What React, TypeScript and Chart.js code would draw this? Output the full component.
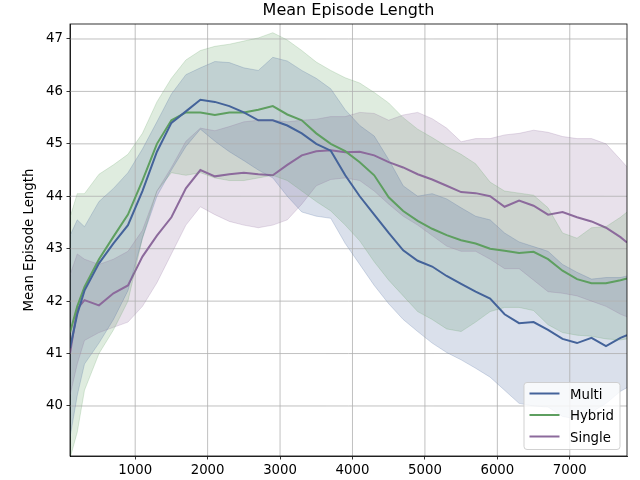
import React, { useEffect, useRef } from "react";
import { Chart, registerables } from "chart.js";

Chart.register(...registerables);

const steps = [100, 200, 300, 500, 700, 900, 1100, 1300, 1500, 1700, 1900, 2100, 2300, 2500, 2700, 2900, 3100, 3300, 3500, 3700, 3900, 4100, 4300, 4500, 4700, 4900, 5100, 5300, 5500, 5700, 5900, 6100, 6300, 6500, 6700, 6900, 7100, 7300, 7500, 7700, 7790];

const multiMean = [41.1, 41.75, 42.2, 42.72, 43.1, 43.45, 44.1, 44.85, 45.4, 45.62, 45.84, 45.8, 45.72, 45.6, 45.45, 45.45, 45.35, 45.2, 45.0, 44.87, 44.4, 44.0, 43.65, 43.3, 42.97, 42.77, 42.66, 42.48, 42.33, 42.18, 42.05, 41.75, 41.58, 41.6, 41.45, 41.28, 41.2, 41.3, 41.14, 41.3, 41.35];
const multiHigh = [43.25, 43.55, 43.42, 43.9, 44.15, 44.45, 44.9, 45.42, 45.95, 46.32, 46.45, 46.57, 46.55, 46.45, 46.4, 46.65, 46.58, 46.4, 46.25, 46.05, 45.65, 45.35, 45.15, 44.7, 44.2, 44.0, 44.05, 43.95, 43.78, 43.62, 43.55, 43.3, 43.13, 43.04, 42.95, 42.7, 42.55, 42.42, 42.45, 42.45, 42.48];
const multiLow = [39.4, 40.2, 40.8, 41.2, 41.65, 42.2, 43.2, 44.0, 44.5, 44.95, 45.28, 45.05, 44.85, 44.68, 44.5, 44.35, 44.0, 43.7, 43.62, 43.58, 43.1, 42.7, 42.3, 41.95, 41.65, 41.42, 41.2, 41.02, 40.88, 40.72, 40.55, 40.3, 40.05, 40.0, 39.98, 39.8, 39.75, 39.88, 40.05, 40.28, 40.35];

const hybridMean = [41.4, 41.9, 42.27, 42.8, 43.23, 43.65, 44.3, 45.0, 45.45, 45.6, 45.6, 45.55, 45.6, 45.6, 45.65, 45.72, 45.56, 45.45, 45.2, 45.0, 44.86, 44.65, 44.4, 43.98, 43.72, 43.53, 43.38, 43.26, 43.16, 43.1, 43.0, 42.96, 42.92, 42.94, 42.8, 42.58, 42.42, 42.34, 42.34, 42.4, 42.43];
const hybridHigh = [43.6, 44.05, 44.05, 44.42, 44.6, 44.8, 45.2, 45.8, 46.25, 46.6, 46.78, 46.86, 46.9, 46.96, 47.02, 47.12, 46.98, 46.78, 46.56, 46.4, 46.26, 46.16, 45.98, 45.78, 45.5, 45.28, 45.12, 44.95, 44.8, 44.62, 44.27, 44.1, 44.06, 44.02, 43.78, 43.3, 43.2, 43.4, 43.42, 43.6, 43.7];
const hybridLow = [39.0, 39.5, 40.3, 41.0, 41.45, 42.0, 43.2, 44.1, 44.45, 44.4, 44.45, 44.35, 44.3, 44.3, 44.35, 44.4, 44.3, 44.1, 43.9, 43.72, 43.45, 43.15, 42.75, 42.4, 42.1, 41.8, 41.65, 41.47, 41.42, 41.6, 41.8, 41.88, 41.88, 41.82, 41.55, 41.4, 41.35, 41.33, 41.28, 41.26, 41.28];

const singleMean = [41.0, 41.85, 42.02, 41.92, 42.15, 42.3, 42.85, 43.25, 43.6, 44.15, 44.5, 44.38, 44.42, 44.45, 44.42, 44.4, 44.6, 44.78, 44.86, 44.88, 44.84, 44.85, 44.78, 44.65, 44.55, 44.42, 44.32, 44.2, 44.08, 44.06, 44.0, 43.8, 43.92, 43.82, 43.65, 43.7, 43.6, 43.52, 43.4, 43.22, 43.12];
const singleHigh = [42.5, 42.9, 42.8, 42.7, 42.8, 42.95, 43.35, 44.1, 44.55, 45.05, 45.3, 45.25, 45.33, 45.42, 45.45, 45.45, 45.42, 45.45, 45.47, 45.52, 45.52, 45.6, 45.58, 45.45, 45.55, 45.6, 45.48, 45.3, 45.04, 45.1, 45.1, 45.17, 45.2, 45.26, 45.22, 45.14, 45.1, 45.1, 45.0, 44.7, 44.56];
const singleLow = [40.2, 40.8, 41.25, 41.4, 41.5, 41.6, 41.9, 42.35, 42.9, 43.45, 43.8, 43.65, 43.52, 43.45, 43.4, 43.45, 43.55, 43.85, 44.2, 44.32, 44.35, 44.3, 44.1, 43.85, 43.62, 43.45, 43.25, 43.05, 42.95, 42.95, 42.8, 42.62, 42.62, 42.4, 42.18, 42.15, 42.1, 42.0, 41.9, 41.75, 41.7];

const xTicks = [1000, 2000, 3000, 4000, 5000, 6000, 7000];
const yTicks = [40, 41, 42, 43, 44, 45, 46, 47];
const seriesLabels = ["Multi", "Hybrid", "Single"];
const titleText = "Mean Episode Length";
const yLabelText = "Mean Episode Length";

const FONT = "'DejaVu Sans', 'Liberation Sans', sans-serif";
const rgba = (c: number[], a: number) => `rgba(${c[0]},${c[1]},${c[2]},${a})`;
const colors = [
  [68, 99, 154],
  [94, 159, 96],
  [140, 106, 156],
];

const pts = (arr: number[]) => steps.map((s, i) => ({ x: s, y: arr[i] }));

const decorPlugin = {
  id: "decor",
  beforeDatasetsDraw(chart: any) {
    const { ctx, chartArea: a, scales } = chart;
    ctx.save();
    ctx.beginPath();
    ctx.rect(a.left, a.top, a.right - a.left, a.bottom - a.top);
    ctx.clip();
    ctx.strokeStyle = "#b0b0b0";
    ctx.lineWidth = 0.8;
    for (const v of xTicks) {
      const px = scales.x.getPixelForValue(v);
      ctx.beginPath();
      ctx.moveTo(px, a.top);
      ctx.lineTo(px, a.bottom);
      ctx.stroke();
    }
    for (const v of yTicks) {
      const py = scales.y.getPixelForValue(v);
      ctx.beginPath();
      ctx.moveTo(a.left, py);
      ctx.lineTo(a.right, py);
      ctx.stroke();
    }
    ctx.restore();
  },
  afterDatasetsDraw(chart: any) {
    const { ctx, chartArea: a } = chart;
    ctx.save();
    ctx.strokeStyle = "#000";
    ctx.lineWidth = 0.8;
    ctx.strokeRect(a.left, a.top, a.right - a.left, a.bottom - a.top);
    ctx.restore();
  },
  afterDraw(chart: any) {
    const { ctx, chartArea: a } = chart;
    ctx.save();
    // title
    ctx.fillStyle = "#000";
    ctx.font = `16px ${FONT}`;
    ctx.textAlign = "center";
    ctx.textBaseline = "alphabetic";
    ctx.fillText(titleText, (a.left + a.right) / 2, 15);
    // y label
    ctx.save();
    ctx.translate(33, (a.top + a.bottom) / 2);
    ctx.rotate(-Math.PI / 2);
    ctx.font = `13.3px ${FONT}`;
    ctx.textAlign = "center";
    ctx.textBaseline = "alphabetic";
    ctx.fillText(yLabelText, 0, 0);
    ctx.restore();
    // legend
    const items = chart.data.datasets.filter((d: any) => !String(d.label).startsWith("_"));
    const bx = 524, by = 382.5, bw = 96, bh = 67, r = 3;
    ctx.beginPath();
    ctx.moveTo(bx + r, by);
    ctx.lineTo(bx + bw - r, by);
    ctx.arcTo(bx + bw, by, bx + bw, by + r, r);
    ctx.lineTo(bx + bw, by + bh - r);
    ctx.arcTo(bx + bw, by + bh, bx + bw - r, by + bh, r);
    ctx.lineTo(bx + r, by + bh);
    ctx.arcTo(bx, by + bh, bx, by + bh - r, r);
    ctx.lineTo(bx, by + r);
    ctx.arcTo(bx, by, bx + r, by, r);
    ctx.closePath();
    ctx.fillStyle = "rgba(255,255,255,0.8)";
    ctx.fill();
    ctx.strokeStyle = "rgba(204,204,204,0.9)";
    ctx.lineWidth = 1;
    ctx.stroke();
    ctx.font = `13.3px ${FONT}`;
    ctx.textAlign = "left";
    ctx.textBaseline = "alphabetic";
    items.forEach((d: any, i: number) => {
      const ly = 393.5 + i * 21.5;
      ctx.strokeStyle = d.borderColor;
      ctx.lineWidth = 2;
      ctx.beginPath();
      ctx.moveTo(529.5, ly);
      ctx.lineTo(559.5, ly);
      ctx.stroke();
      ctx.fillStyle = "#000";
      ctx.fillText(d.label, 570, ly + 5);
    });
    ctx.restore();
  },
};

export default function App() {
  const ref = useRef<HTMLCanvasElement | null>(null);
  useEffect(() => {
    document.body.style.margin = "0";
    if (!ref.current) return;
    const means = [multiMean, hybridMean, singleMean];
    const lows = [multiLow, hybridLow, singleLow];
    const highs = [multiHigh, hybridHigh, singleHigh];
    const datasets: any[] = [];
    for (let k = 0; k < 3; k++) {
      datasets.push({
        label: "_low" + k,
        data: pts(lows[k]),
        borderColor: rgba(colors[k], 0.22),
        borderWidth: 1,
        pointRadius: 0,
        fill: false,
      });
      datasets.push({
        label: "_high" + k,
        data: pts(highs[k]),
        borderColor: rgba(colors[k], 0.22),
        backgroundColor: rgba(colors[k], 0.2),
        borderWidth: 1,
        pointRadius: 0,
        fill: "-1",
      });
    }
    for (let k = 0; k < 3; k++) {
      datasets.push({
        label: seriesLabels[k],
        data: pts(means[k]),
        borderColor: rgba(colors[k], 1),
        borderWidth: 2,
        pointRadius: 0,
        fill: false,
      });
    }
    const chart = new Chart(ref.current, {
      type: "line",
      data: { datasets },
      options: {
        animation: false,
        responsive: false,
        devicePixelRatio: 1,
        layout: { padding: { left: 0, right: 13, top: 24, bottom: 0 } },
        plugins: {
          legend: { display: false },
          title: { display: false },
          tooltip: { enabled: false },
          filler: { drawTime: "beforeDatasetsDraw" },
        } as any,
        scales: {
          x: {
            type: "linear",
            min: 100,
            max: 7790,
            afterBuildTicks: (s: any) => {
              s.ticks = xTicks.map((v) => ({ value: v }));
            },
            afterFit: (s: any) => {
              s.height = 24;
            },
            grid: {
              drawOnChartArea: false,
              drawTicks: true,
              tickLength: 3.5,
              tickColor: "#000",
              tickWidth: 0.8,
            },
            border: { display: true, color: "#000", width: 0.8 },
            ticks: {
              autoSkip: false,
              maxRotation: 0,
              padding: 3,
              color: "#000",
              font: { family: FONT, size: 13.3 },
              callback: (v: any) => String(v),
            },
          },
          y: {
            type: "linear",
            min: 39.046,
            max: 47.286,
            afterBuildTicks: (s: any) => {
              s.ticks = yTicks.map((v) => ({ value: v }));
            },
            afterFit: (s: any) => {
              s.width = 70;
            },
            grid: {
              drawOnChartArea: false,
              drawTicks: true,
              tickLength: 3.5,
              tickColor: "#000",
              tickWidth: 0.8,
            },
            border: { display: true, color: "#000", width: 0.8 },
            ticks: {
              padding: 3.5,
              color: "#000",
              font: { family: FONT, size: 13.3 },
              callback: (v: any) => String(v),
            },
          },
        },
      },
      plugins: [decorPlugin],
    });
    return () => chart.destroy();
  }, []);
  return (
    <div style={{ width: 640, height: 480 }}>
      <canvas ref={ref} width={640} height={480} style={{ display: "block" }} />
    </div>
  );
}
